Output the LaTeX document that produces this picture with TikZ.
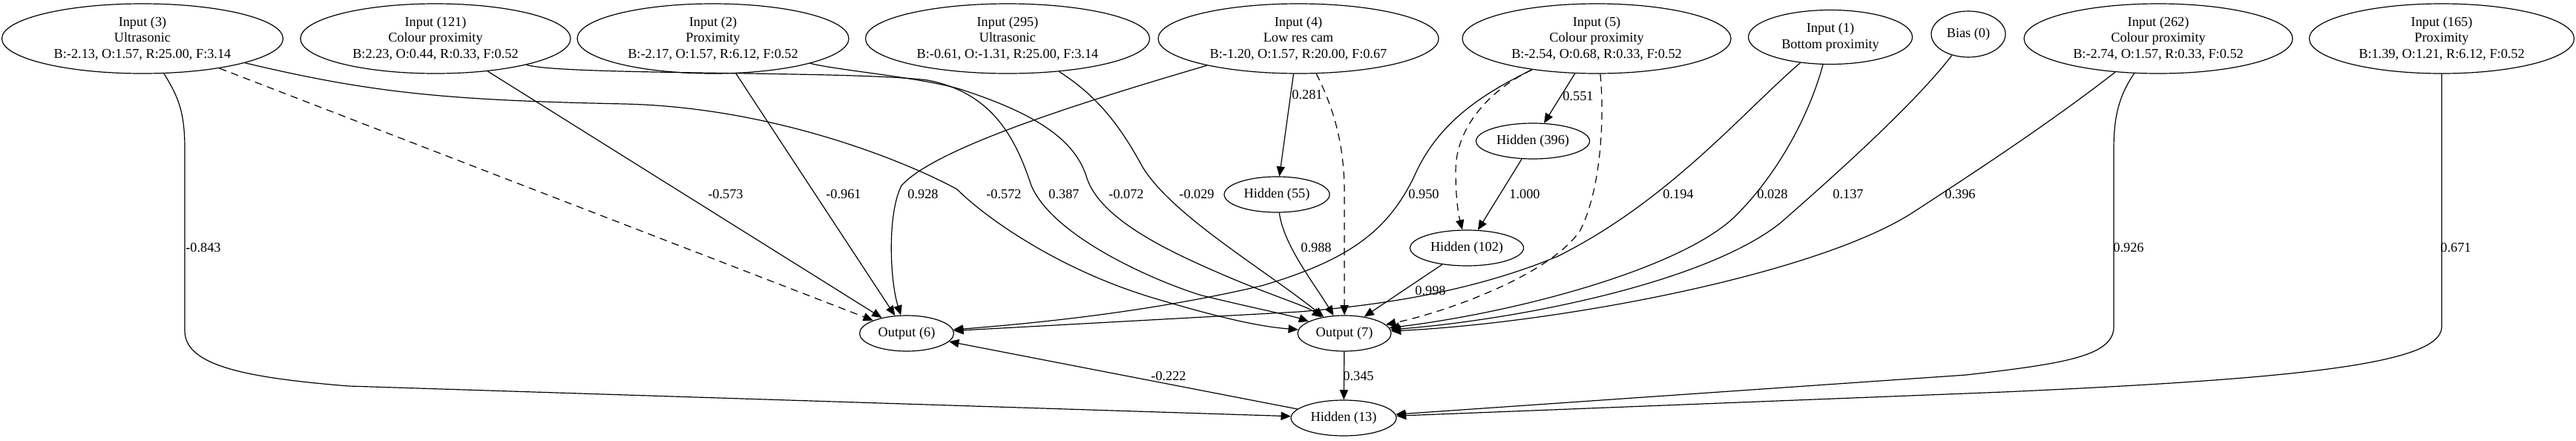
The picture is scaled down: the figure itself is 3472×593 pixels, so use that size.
\documentclass[tikz,border=0pt]{standalone}
\usepackage{fontspec}
\setmainfont{Liberation Serif}
\usetikzlibrary{shapes.geometric, arrows.meta}

\begin{document}
\begin{tikzpicture}[
    x=0.25mm, y=-0.25mm,
    line width=0.85pt,
    >={Triangle[length=3.3mm, width=2.8mm]},
    every node/.style={font=\fontsize{13}{15.5}\selectfont},
    inp/.style 2 args={
        ellipse,
        draw,
        inner sep=0pt,
        align=center,
        minimum width=#1*0.25mm,
        minimum height=#2*0.25mm
    },
    hid/.style={
        ellipse,
        draw,
        inner sep=0pt,
        minimum width=#1*0.25mm,
        minimum height=12mm
    },
    wt/.style={inner sep=1pt},
    off/.style={dash pattern=on 2.5mm off 1.8mm}
]
\useasboundingbox (0,0) rectangle (3472,593);

% input layer
\node[inp={379}{94}] (in3) at (192,52) {Input (3)\\Ultrasonic\\B:-2.13, O:1.57, R:25.00, F:3.14};
\node[inp={364}{94}] (in121) at (587,52) {Input (121)\\Colour proximity\\B:2.23, O:0.44, R:0.33, F:0.52};
\node[inp={366}{94}] (in2) at (961,52) {Input (2)\\Proximity\\B:-2.17, O:1.57, R:6.12, F:0.52};
\node[inp={383}{94}] (in295) at (1358,52) {Input (295)\\Ultrasonic\\B:-0.61, O:-1.31, R:25.00, F:3.14};
\node[inp={378}{94}] (in4) at (1750,52) {Input (4)\\Low res cam\\B:-1.20, O:1.57, R:20.00, F:0.67};
\node[inp={362}{94}] (in5) at (2152,52) {Input (5)\\Colour proximity\\B:-2.54, O:0.68, R:0.33, F:0.52};
\node[inp={221}{73}] (in1) at (2467,50) {Input (1)\\Bottom proximity};
\node[inp={100}{62}] (bias) at (2653,46) {Bias (0)};
\node[inp={362}{94}] (in262) at (2909,52) {Input (262)\\Colour proximity\\B:-2.74, O:1.57, R:0.33, F:0.52};
\node[inp={357}{94}] (in165) at (3291,52) {Input (165)\\Proximity\\B:1.39, O:1.21, R:6.12, F:0.52};

% hidden and output
\node[hid=153] (h396) at (2066,190) {Hidden (396)};
\node[hid=142] (h55) at (1721,262) {Hidden (55)};
\node[hid=153] (h102) at (1977,334) {Hidden (102)};
\node[hid=127] (out6) at (1222,449) {Output (6)};
\node[hid=126] (out7) at (1812,449) {Output (7)};
\node[hid=142] (h13) at (1811,563) {Hidden (13)};

% Input (3)
\draw[->] (in3) .. controls (240,130) and (249,150) .. (249,200) -- (249,445) .. controls (249,490) and (320,508) .. (470,520) -- (h13);
\node[wt] (w3a) at (274,334) {-0.843};
\draw[->, off] (in3) -- (out6);
\draw[->] (in3) .. controls (500,125) and (600,135) .. (842,140) .. controls (1050,145) and (1230,222) .. (1290,255) .. controls (1325,290) and (1420,360) .. (1550,400) .. controls (1650,430) and (1700,440) .. (out7);
\node[wt] (w3c) at (1353,262) {-0.572};

% Input (121)
\draw[->] (in121) -- (out6);
\node[wt] (w121a) at (978,262) {-0.573};
\draw[->] (in121) .. controls (760,102) and (1150,95) .. (1250,108) .. controls (1340,125) and (1370,190) .. (1390,250) .. controls (1420,320) and (1560,380) .. (1620,398) .. controls (1690,415) and (1740,425) .. (out7);
\node[wt] (w121b) at (1434,262) {0.387};

% Input (2)
\draw[->] (in2) -- (out6);
\node[wt] (w2a) at (1137,262) {-0.961};
\draw[->] (in2) .. controls (1130,95) and (1250,105) .. (1300,122) .. controls (1400,155) and (1450,190) .. (1465,240) .. controls (1485,300) and (1590,345) .. (1660,375) .. controls (1720,400) and (1760,412) .. (out7);
\node[wt] (w2b) at (1518,262) {-0.072};

% Input (295)
\draw[->] (in295) .. controls (1480,130) and (1510,170) .. (1540,225) .. controls (1580,290) and (1700,360) .. (out7);
\node[wt] (w295) at (1613,262) {-0.029};

% Input (4)
\draw[->] (in4) .. controls (1450,140) and (1260,200) .. (1215,250) .. controls (1195,290) and (1200,380) .. (out6);
\node[wt] (w4a) at (1244,262) {0.928};
\draw[->] (in4) -- (h55);
\node[wt] (w4b) at (1762,128) {0.281};
\draw[->, off] (in4) .. controls (1800,150) and (1812,200) .. (1812,260) -- (out7);

% Input (5)
\draw[->] (in5) -- (h396);
\node[wt] (w5a) at (2127,130) {0.551};
\draw[->, off] (in5) .. controls (2010,120) and (1962,170) .. (1962,230) .. controls (1962,270) and (1966,290) .. (h102);
\draw[->, off] (in5) .. controls (2162,150) and (2160,250) .. (2130,310) .. controls (2090,370) and (1950,420) .. (out7);
\draw[->] (in5) .. controls (1990,130) and (1935,170) .. (1905,240) .. controls (1870,310) and (1820,350) .. (1700,385) .. controls (1550,420) and (1400,435) .. (out6);
\node[wt] (w5b) at (1919,262) {0.950};

% hidden nodes
\draw[->] (h55) .. controls (1730,330) and (1770,380) .. (out7);
\node[wt] (w55) at (1774,334) {0.988};
\draw[->] (h396) -- (h102);
\node[wt] (w396) at (2055,262) {1.000};
\draw[->] (h102) -- (out7.40);
\node[wt] (w102) at (1928,392) {0.998};

% Input (1)
\draw[->] (in1) .. controls (2350,150) and (2250,270) .. (2100,345) .. controls (1980,395) and (1850,412) .. (1750,420) -- (out6);
\node[wt] (w1a) at (2262,262) {0.194};
\draw[->] (in1) .. controls (2440,150) and (2400,230) .. (2340,290) .. controls (2270,360) and (2050,420) .. (out7);
\node[wt] (w1b) at (2389,262) {0.028};

% Bias (0)
\draw[->] (bias) .. controls (2580,140) and (2480,230) .. (2400,300) .. controls (2300,380) and (2050,430) .. (out7);
\node[wt] (wb) at (2491,262) {0.137};

% Input (262)
\draw[->] (in262) .. controls (2770,160) and (2680,220) .. (2580,285) .. controls (2450,370) and (2100,435) .. (out7);
\node[wt] (w262a) at (2642,262) {0.396};
\draw[->] (in262) .. controls (2855,130) and (2849,160) .. (2849,200) -- (2849,440) .. controls (2849,480) and (2780,490) .. (2650,505) -- (h13);
\node[wt] (w262b) at (2869,334) {0.926};

% Input (165)
\draw[->] (in165) -- (3291,440) .. controls (3291,490) and (3100,510) .. (2700,528) -- (h13);
\node[wt] (w165) at (3310,334) {0.671};

% outputs
\draw[->] (out7) -- (h13);
\node[wt] (w7) at (1831,507) {0.345};
\draw[->] (h13) -- (out6);
\node[wt] (w13) at (1575,507) {-0.222};

\end{tikzpicture}
\end{document}
